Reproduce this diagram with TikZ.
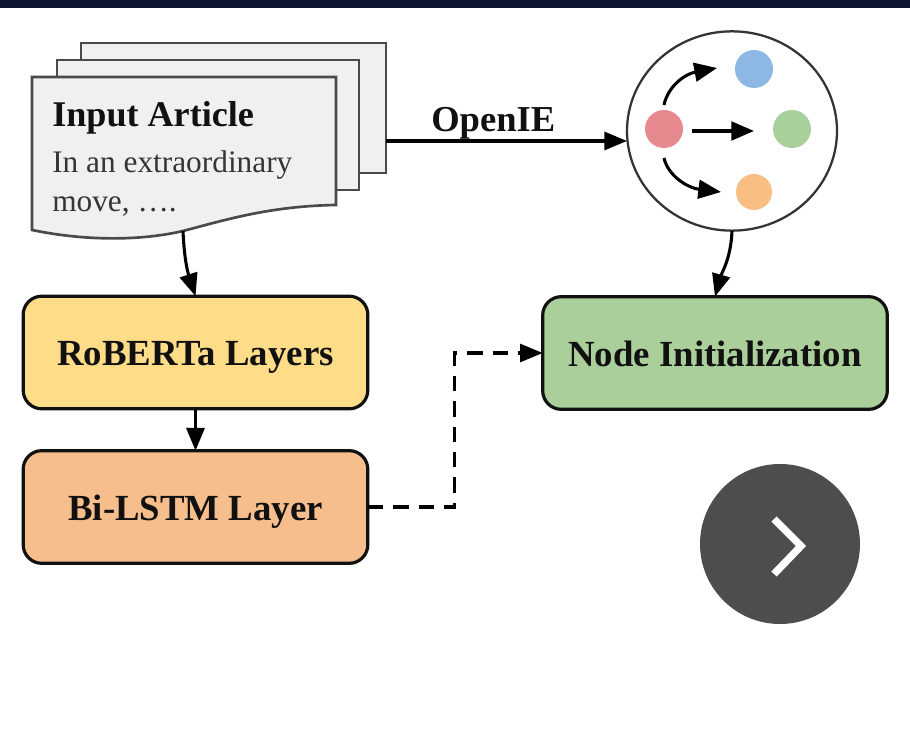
\documentclass[tikz,border=0pt]{standalone}
\usepackage{fontspec}
\setmainfont{Liberation Serif}
\usetikzlibrary{arrows.meta,shapes.geometric,calc}
\definecolor{barcol}{HTML}{0D1530}
\definecolor{pagecol}{HTML}{F0F0F0}
\definecolor{edgecol}{HTML}{4A4A4A}
\definecolor{inkcol}{HTML}{111111}
\definecolor{yellowbox}{HTML}{FFDC88}
\definecolor{orangebox}{HTML}{F6BE8C}
\definecolor{greenbox}{HTML}{ABCF9B}
\definecolor{reddot}{HTML}{E68A90}
\definecolor{bluedot}{HTML}{8DB8E4}
\definecolor{greendot}{HTML}{A9D09A}
\definecolor{orangedot}{HTML}{F8BE83}
\definecolor{btncol}{HTML}{4D4D4D}
\tikzset{
  px/.style={x=0.75pt,y=-0.75pt},
  pagebox/.style={draw=edgecol,fill=pagecol,line width=2pt,rectangle,inner sep=0pt,outer sep=0pt,anchor=north west},
  layerbox/.style={draw=inkcol,line width=2.4pt,rectangle,rounded corners=14pt,minimum width=258.5pt,minimum height=84.5pt,inner sep=0pt,outer sep=0pt,text height=22pt,text depth=2pt,font=\fontsize{27.6}{30}\selectfont\bfseries,text=inkcol},
  dot/.style={circle,minimum size=28.5pt,inner sep=0pt,outer sep=0pt},
  flow/.style={draw=black,line width=2.3pt,-{Triangle[length=17pt,width=13.5pt]}},
  smallflow/.style={draw=black,line width=2.3pt,-{Triangle[length=17pt,width=14pt]}},
  headtext/.style={anchor=base west,inner sep=0pt,font=\fontsize{27.1}{30}\selectfont\bfseries,text=inkcol},
  bodytext/.style={anchor=base west,inner sep=0pt,font=\fontsize{23.5}{28}\selectfont,text=inkcol!85!white},
}
\begin{document}
\begin{tikzpicture}[px]
\useasboundingbox (0,0) rectangle (910,730);
\fill[white] (0,0) rectangle (910,730);
\fill[barcol] (0,0) rectangle (910,8);

% stacked pages
\node[pagebox,minimum width=228.75pt,minimum height=97.5pt] (back) at (81,43) {};
\node[pagebox,minimum width=226.5pt,minimum height=97.5pt] (middle) at (57,60) {};
\coordinate (frontNW) at (32,77);
\coordinate (frontNE) at (336,77);
\coordinate (frontSE) at (336,205);
\coordinate (frontSW) at (32,230);
\coordinate (articleOut) at (183,231);
\draw[draw=edgecol,fill=pagecol,line width=2pt,line join=miter]
  (frontNW) -- (frontNE) -- (frontSE)
  .. controls (270,206) and (225,220) .. (articleOut)
  .. controls (140,241) and (85,241) .. (frontSW) -- cycle;
\node[headtext] (title) at (52,127) {Input Article};
\node[bodytext] (line1) at (52,173) {In an extraordinary};
\node[bodytext] (line2) at (52,212) {move, ….};

% graph circle
\node[ellipse,draw=edgecol!70!black,fill=white,line width=1.7pt,minimum width=157.5pt,minimum height=149.5pt,inner sep=0pt,outer sep=0pt] (graph) at (732,131) {};
\node[dot,fill=reddot] (red) at (664,129) {};
\node[dot,fill=bluedot] (blue) at (754,69) {};
\node[dot,fill=greendot] (green) at (792,129) {};
\node[dot,fill=orangedot,minimum size=27pt] (orange) at (754,192) {};
\coordinate (arcAstart) at (664,105);
\coordinate (arcAend) at (717,68);
\coordinate (midStart) at (692,131);
\coordinate (midEnd) at (754,131);
\coordinate (arcBstart) at (664,158);
\coordinate (arcBend) at (721,192);
\draw[smallflow] (arcAstart) .. controls (668,86) and (685,74) .. (arcAend);
\draw[smallflow] (midStart) -- (midEnd);
\draw[smallflow] (arcBstart) .. controls (668,176) and (688,188) .. (arcBend);

% layer boxes
\node[layerbox,fill=yellowbox] (roberta) at (195.5,352.5) {RoBERTa Layers};
\node[layerbox,fill=orangebox] (bilstm) at (195.5,507) {Bi-LSTM Layer};
\node[layerbox,fill=greenbox] (init) at (715,353) {Node Initialization};

% connectors
\coordinate (oieStart) at (386,141);
\coordinate (oieEnd) at (627,141);
\draw[flow] (oieStart) -- node[above=0pt,inner sep=0pt,pos=0.445,font=\fontsize{27.4}{30}\selectfont\bfseries,text=inkcol] (oielabel) {OpenIE} (oieEnd);
\draw[flow] (articleOut) .. controls (184,255) and (187,270) .. (roberta.north);
\draw[flow] (roberta.south) -- (bilstm.north);
\draw[flow] (graph.south) .. controls (731,258) and (722,272) .. (init.north);
\draw[flow,dash pattern=on 11.5pt off 7.5pt] (bilstm.east) -- ++(87,0) |- (init.west);

% next button
\node[circle,fill=btncol,minimum size=120pt,inner sep=0pt,outer sep=0pt] (btn) at (780,544) {};
\coordinate (chevA) at (774,519);
\coordinate (chevB) at (801,546);
\coordinate (chevC) at (774,574);
\draw[white,line width=5.5pt,line join=miter] (chevA) -- (chevB) -- (chevC);
\end{tikzpicture}
\end{document}
